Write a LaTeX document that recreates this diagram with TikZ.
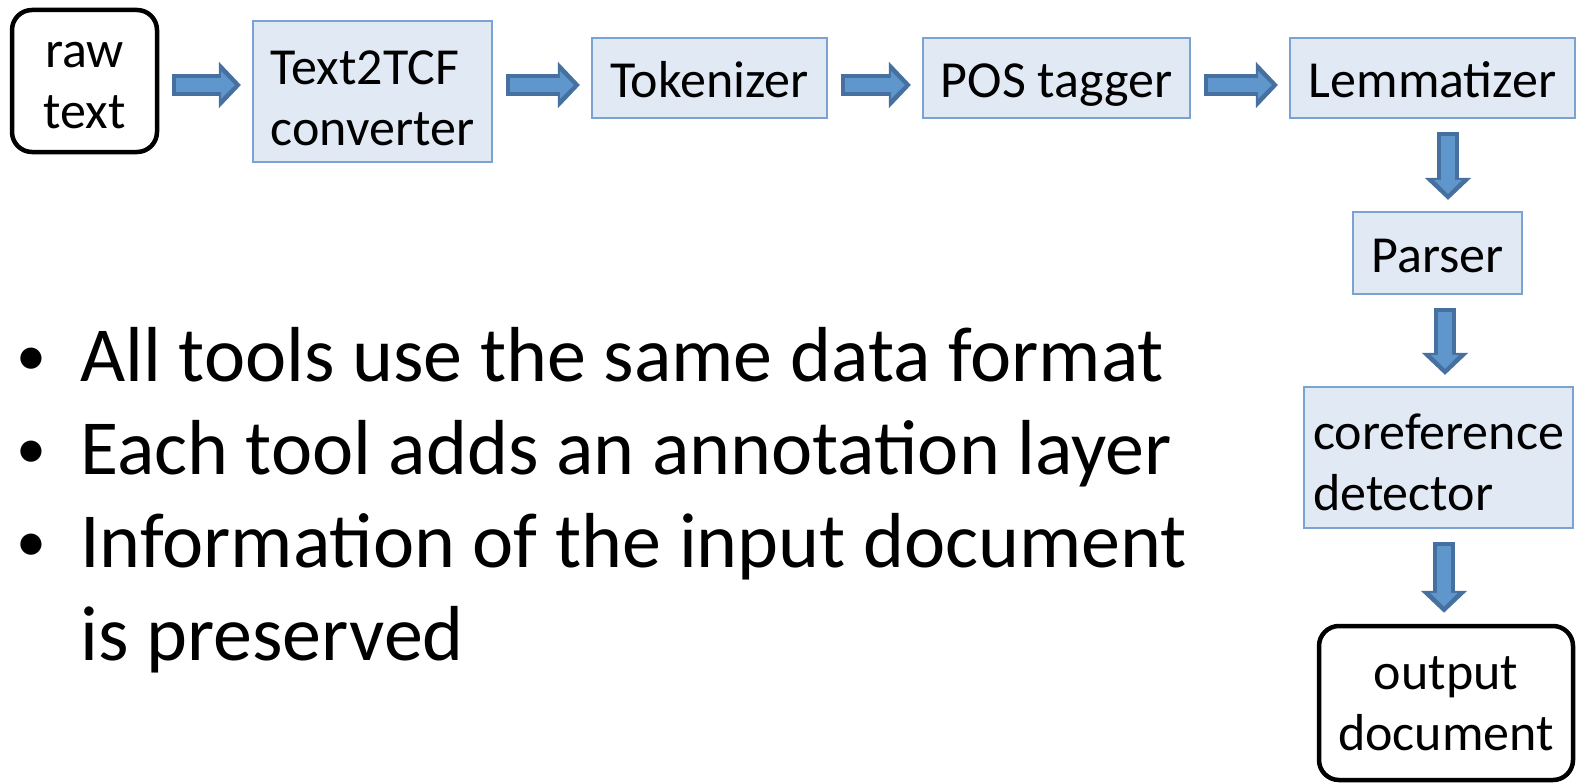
\documentclass[tikz,border=0pt]{standalone}
\usepackage{fontspec}
\setmainfont{Carlito}
\usepackage{xcolor}
\usepackage{tikz}
\usetikzlibrary{arrows.meta, positioning}
\definecolor{ToolFill}{HTML}{E1E9F4}
\definecolor{ToolEdge}{HTML}{7AA2D2}
\definecolor{FlowFill}{HTML}{5F96CB}
\definecolor{FlowEdge}{HTML}{45709F}

\begin{document}
\begin{tikzpicture}[
  x=1pt, y=-1pt,
  tool/.style={rectangle, draw=ToolEdge, fill=ToolFill, line width=2.2pt, inner sep=0pt,
    align=left, font=\fontsize{52}{61}\selectfont},
  oneline/.style={text height=38pt, text depth=0pt},
  twoline/.style={text height=#1, text depth=0pt},
  endpoint/.style={rectangle, rounded corners=20pt, draw=black, line width=4.5pt, inner sep=0pt,
    align=center, font=\fontsize{52}{61}\selectfont},
  flow/.style={
    preaction={draw=FlowEdge, line width=22pt, shorten <=13pt, shorten >=11pt,
      -{Triangle[length=22pt, width=45pt]}},
    draw=FlowFill, line width=14pt, shorten <=17pt, shorten >=17pt,
    -{Triangle[length=14pt, width=27pt]}}
]
\useasboundingbox (0,0) rectangle (1579,784);

% pipeline, top row
\node[endpoint, twoline=94pt, minimum width=145pt, minimum height=142pt] (raw) at (84.5,81) {raw\\text};
\node[tool, twoline=107pt, minimum width=239pt, minimum height=141pt] (t2t) at (372.5,91.5) {Text2TCF\\converter};
\node[tool, oneline, minimum width=235pt, minimum height=80pt] (tok) at (709.5,78) {Tokenizer};
\node[tool, oneline, minimum width=267pt, minimum height=80pt] (pos) at (1056.5,78) {POS tagger};
\node[tool, oneline, minimum width=285pt, minimum height=80pt] (lem) at (1432.5,78) {Lemmatizer};

% pipeline, right column
\node[tool, oneline, minimum width=169pt, minimum height=82pt] (parser) at (1437.5,253) {Parser};
\node[tool, twoline=106pt, minimum width=269pt, minimum height=141pt] (coref) at (1438.5,457.5) {coreference\\detector};
\node[endpoint, twoline=94pt, minimum width=254pt, minimum height=154pt] (out) at (1446,703) {output\\document};

\draw[flow] (raw.east |- 0,85) -- (t2t.west |- 0,85);
\draw[flow] (t2t.east |- 0,85) -- (tok.west |- 0,85);
\draw[flow] (tok.east |- 0,85) -- (pos.west |- 0,85);
\draw[flow] (pos.east |- 0,85) -- (lem.west |- 0,85);
\draw[flow] (lem.south -| 1448,0) -- (parser.north -| 1448,0);
\draw[flow] (parser.south -| 1445,0) -- (coref.north -| 1445,0);
\draw[flow] (coref.south -| 1444,0) -- (out.north -| 1444,0);

% bullet points
\newcommand{\dotmark}{\raisebox{6pt}{\fontsize{60}{60}\selectfont\textbullet}}
\node[anchor=north west, inner sep=0pt, font=\fontsize{78}{93}\selectfont] (notes) at (16,316) {%
  \begin{tabular}{@{}l@{}l@{}}
  \makebox[64pt][l]{\dotmark} & All tools use the same data format\\
  \dotmark & Each tool adds an annotation layer\\
  \dotmark & Information of the input document\\
   & is preserved
  \end{tabular}};
\end{tikzpicture}
\end{document}
